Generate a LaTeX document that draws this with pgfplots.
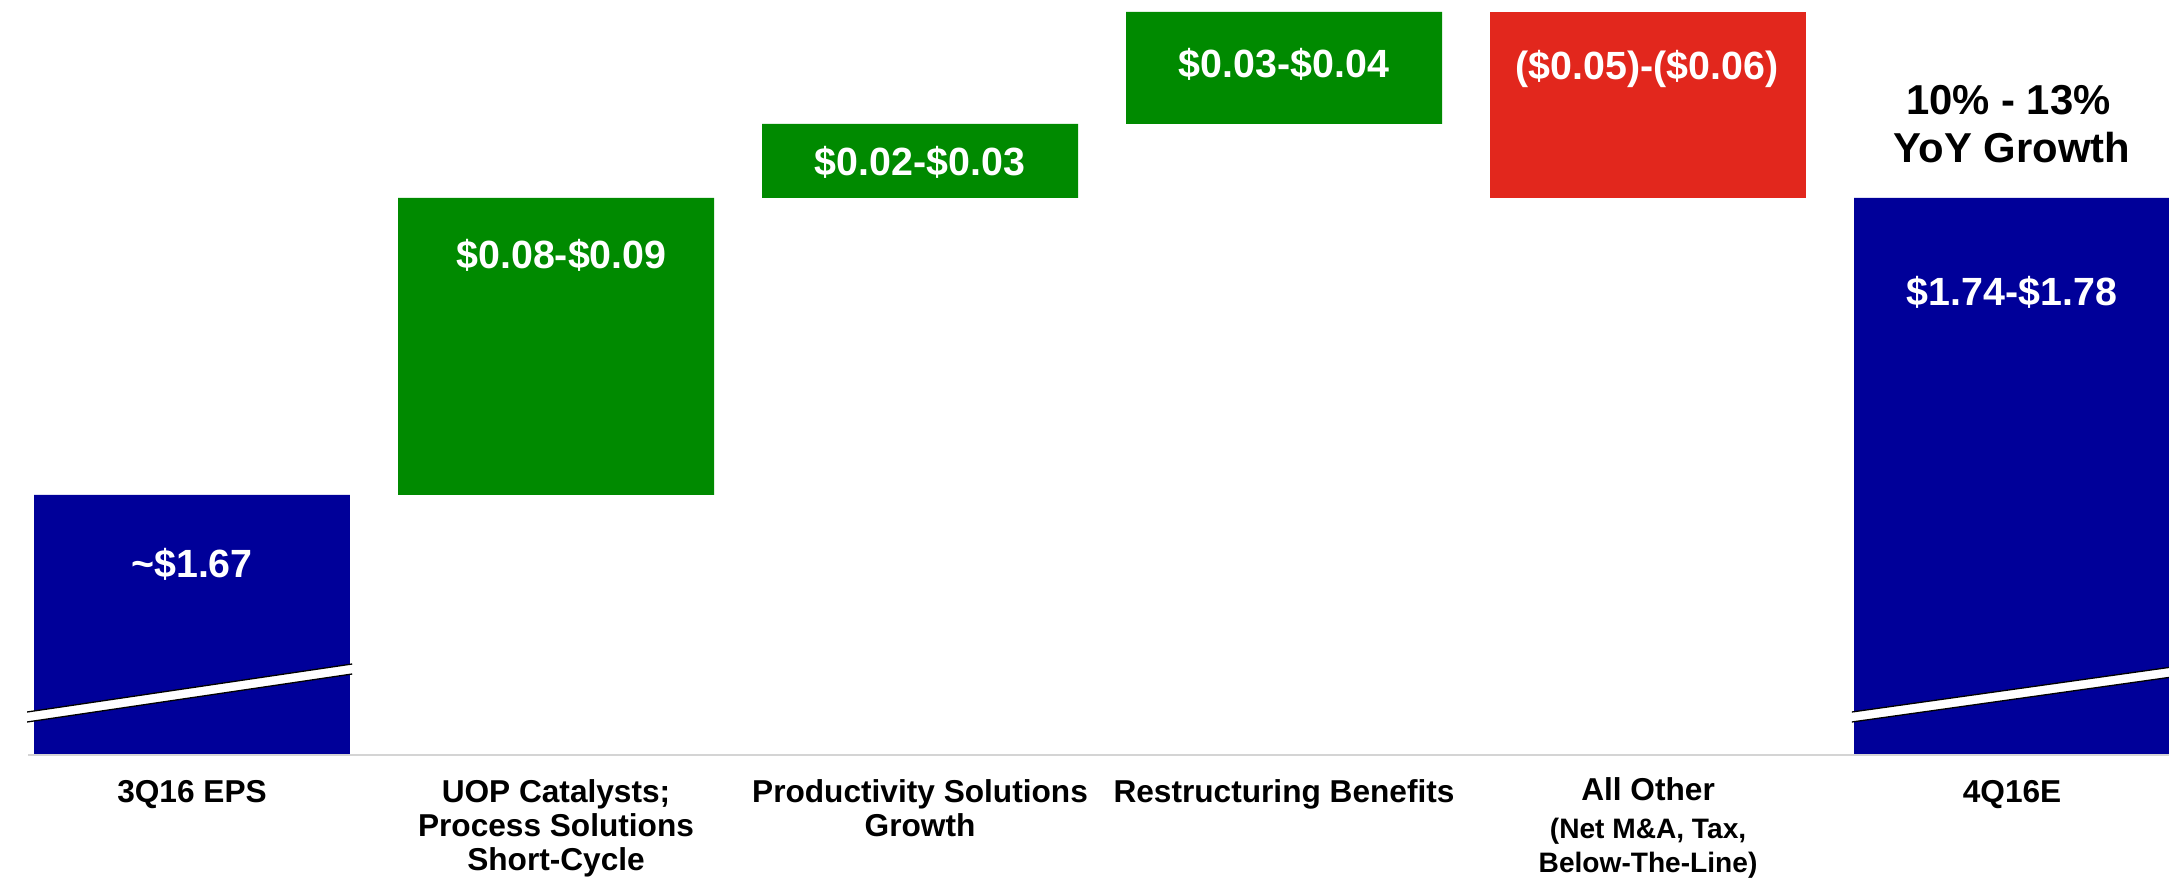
\documentclass[border=0pt]{standalone}
\usepackage{fontspec}
\setmainfont{Liberation Sans}
\usepackage{pgfplots}
\pgfplotsset{compat=1.18}
\definecolor{hblue}{HTML}{000099}
\definecolor{hgreen}{HTML}{008A00}
\definecolor{hred}{HTML}{E2271D}
\definecolor{baseg}{HTML}{D4D4D4}
\begin{document}
\begin{tikzpicture}
\path[use as bounding box] (0,-12.9mm) rectangle (216.9mm,75.5mm);
\begin{axis}[at={(0,0)}, anchor=south west, scale only axis,
  width=216.9mm, height=75.5mm,
  xmin=-0.5275, xmax=5.4313, ymin=0, ymax=7.55,
  axis lines=none, ticks=none, clip=false,
  ybar stacked, bar width=0.868]
% invisible offsets of the floating bars
\addplot[draw=none, fill=none] coordinates {(0,0) (1,2.60) (2,5.57) (3,6.31) (4,5.57) (5,0)};
\addplot[draw=none, fill=hblue] coordinates {(0,2.60) (1,0) (2,0) (3,0) (4,0) (5,5.57)};
\addplot[draw=none, fill=hgreen] coordinates {(0,0) (1,2.97) (2,0.74) (3,1.12) (4,0) (5,0)};
\addplot[draw=none, fill=hred] coordinates {(0,0) (1,0) (2,0) (3,0) (4,1.86) (5,0)};
\end{axis}
% overlay in the same units as the axis (x unit 36.4mm, y unit 10mm, origin at category 0 / baseline)
\begin{scope}[shift={(19.201mm,0)}, x=36.4mm, y=10mm]
% baseline
\draw[baseg, line width=0.2mm] (-0.45,0) -- (5.4313,0);

% axis break marks
\fill[white] (-0.453,0.33) -- (0.44,0.81) -- (0.44,0.91) -- (-0.453,0.43) -- cycle;
\draw[black, line width=0.13mm] (-0.453,0.33) -- (0.44,0.81);
\draw[black, line width=0.13mm] (-0.453,0.43) -- (0.44,0.91);
\fill[white] (4.56,0.33) -- (5.44,0.78) -- (5.44,0.88) -- (4.56,0.43) -- cycle;
\draw[black, line width=0.13mm] (4.56,0.33) -- (5.44,0.78);
\draw[black, line width=0.13mm] (4.56,0.43) -- (5.44,0.88);

% value labels
\tikzset{vlab/.style={white, anchor=base, inner sep=0pt, font=\bfseries\fontsize{11.2}{13}\selectfont}}
\node[vlab] at (0,1.77) {\textasciitilde\$1.67};
\node[vlab] at (1.015,4.86) {\$0.08-\$0.09};
\node[vlab] at (2.0,5.79) {\$0.02-\$0.03};
\node[vlab] at (3.0,6.77) {\$0.03-\$0.04};
\node[vlab] at (3.997,6.75) {(\$0.05)-(\$0.06)};
\node[vlab] at (5.0,4.49) {\$1.74-\$1.78};

% growth annotation
\node[black, anchor=base, inner sep=0pt, font=\bfseries\fontsize{11.9}{13}\selectfont] at (4.99,6.40) {10\% - 13\%};
\node[black, anchor=base, inner sep=0pt, font=\bfseries\fontsize{11.9}{13}\selectfont] at (5.0,5.92) {YoY Growth};

% category labels (anchor base = baseline of the last line)
\tikzset{clab/.style={black, anchor=base, inner sep=0pt, align=center, font=\bfseries\fontsize{9}{9.7}\selectfont}}
\node[clab] at (0,-0.48) {3Q16 EPS};
\node[clab] at (1,-1.16) {UOP Catalysts;\\Process Solutions\\Short-Cycle};
\node[clab] at (2,-0.82) {Productivity Solutions\\Growth};
\node[clab] at (3,-0.48) {Restructuring Benefits};
\node[clab] at (4,-1.18) {All Other\\[0.4mm]{\fontsize{8}{8.6}\selectfont (Net M\&A, Tax,}\\{\fontsize{8}{8.6}\selectfont Below-The-Line)}};
\node[clab] at (5,-0.48) {4Q16E};
\end{scope}
\end{tikzpicture}
\end{document}
